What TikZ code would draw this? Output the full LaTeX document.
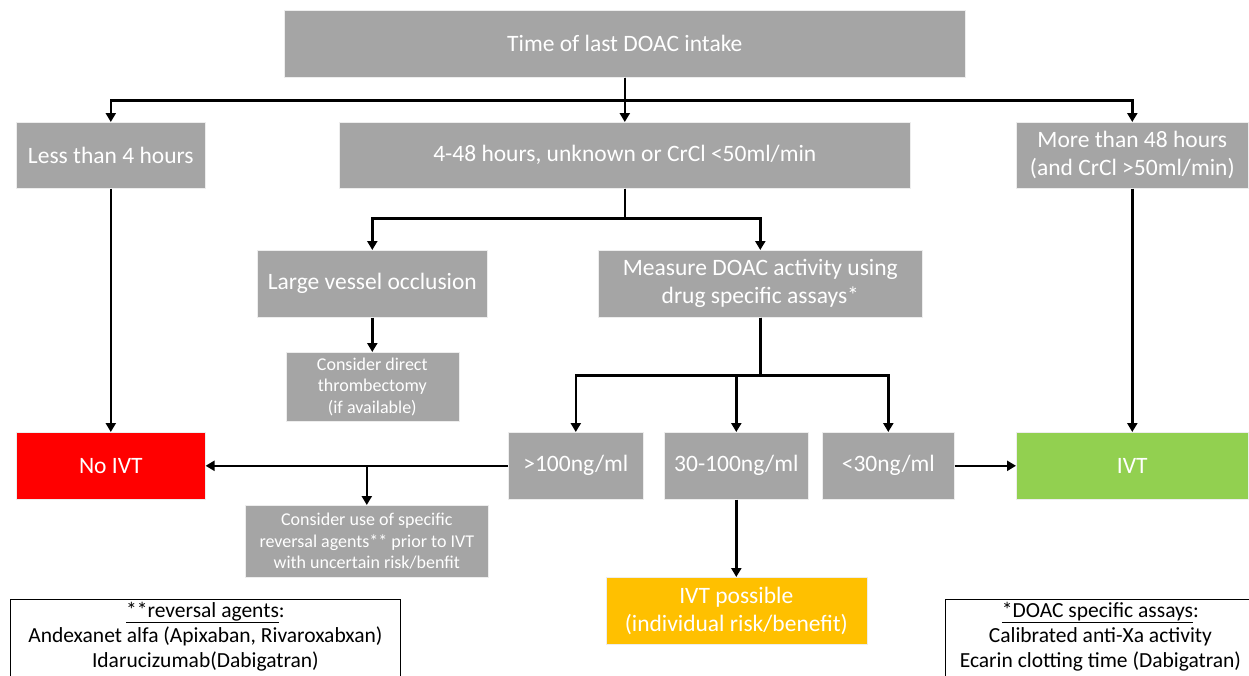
\documentclass[tikz,border=0pt]{standalone}
\usepackage{fontspec}
\setmainfont{Carlito}
\usetikzlibrary{arrows.meta}
\definecolor{boxgray}{HTML}{A5A5A5}
\definecolor{noivtred}{HTML}{FF0000}
\definecolor{ivtgreen}{HTML}{92D050}
\definecolor{possibleyellow}{HTML}{FFC000}
\newcommand{\boxtext}{\fontsize{23.5}{28}\selectfont}
\newcommand{\smalltext}{\fontsize{18}{21.5}\selectfont}
\newcommand{\legendtext}{\fontsize{21.5}{25}\selectfont}

\begin{document}
\begin{tikzpicture}[x=1pt, y=-1pt,
    box/.style={rectangle, anchor=north west, fill=boxgray, draw=white!80!boxgray, line width=0.6pt, text=white, align=center, inner sep=0pt, font=\boxtext},
    smallbox/.style={box, font=\smalltext},
    legendbox/.style={rectangle, anchor=north west, draw=black, line width=0.8pt, align=center, inner sep=0pt, font=\legendtext},
    arrow/.style={draw=black, line width=2.4pt, -{Triangle[width=10pt,length=9pt]}}]
    \useasboundingbox (0,0) rectangle (1249,675);

    % First row
    \node[box, minimum width=681, minimum height=67] (top) at (284,10) {Time of last DOAC intake};

    % Second row
    \node[box, minimum width=189, minimum height=66] (less) at (16,122) {Less than 4 hours};
    \node[box, minimum width=571, minimum height=66] (mid) at (339,122) {4-48 hours, unknown or CrCl <50ml/min};
    \node[box, minimum width=232, minimum height=66] (more) at (1016,122) {More than 48 hours\\(and CrCl >50ml/min)};

    % Third row
    \node[box, minimum width=230, minimum height=67] (lvo) at (257,250) {Large vessel occlusion};
    \node[box, minimum width=324, minimum height=67] (measure) at (598,250) {Measure DOAC activity using\\drug specific assays*};
    \node[smallbox, minimum width=173, minimum height=69] (thromb) at (285.5,352) {Consider direct\\thrombectomy\\(if available)};

    % Fourth row
    \node[box, fill=noivtred, minimum width=189, minimum height=67] (noivt) at (16,432) {No IVT};
    \node[box, minimum width=135, minimum height=67] (high) at (508,432) {>100ng/ml};
    \node[box, minimum width=144, minimum height=67] (medium) at (664,432) {30-100ng/ml};
    \node[box, minimum width=132, minimum height=67] (low) at (822,432) {<30ng/ml};
    \node[box, fill=ivtgreen, minimum width=232, minimum height=67] (ivt) at (1016,432) {IVT};

    % Fifth row
    \node[smallbox, minimum width=243, minimum height=72] (reversal) at (245,505) {Consider use of specific\\reversal agents** prior to IVT\\with uncertain risk/benfit};
    \node[box, fill=possibleyellow, minimum width=261, minimum height=67] (possible) at (605.5,577) {IVT possible\\(individual risk/benefit)};

    % Legends
    \node[legendbox, minimum width=390, minimum height=90, text depth=20pt] (legend-left) at (10,599) {\underline{**reversal agents}:\\Andexanet alfa (Apixaban, Rivaroxabxan)\\Idarucizumab(Dabigatran)};
    \node[legendbox, minimum width=310, minimum height=90, text depth=20pt] (legend-right) at (945,599) {\underline{*DOAC specific assays}:\\Calibrated anti-Xa activity\\Ecarin clotting time (Dabigatran)};

    % Connectors
    \draw[arrow] (top.south) -- ++(0,23) -| (less.north);
    \draw[arrow] (top.south) -- (mid.north);
    \draw[arrow] (top.south) -- ++(0,23) -| (more.north);
    \draw[arrow] (mid.south) -- ++(0,30) -| (lvo.north);
    \draw[arrow] (mid.south) -- ++(0,30) -| (measure.north);
    \draw[arrow] (lvo.south) -- (thromb.north);
    \draw[arrow] (measure.south) -- ++(0,58) -| (high.north);
    \draw[arrow] (measure.south) -- ++(0,58) -| (medium.north);
    \draw[arrow] (measure.south) -- ++(0,58) -| (low.north);
    \draw[arrow] (less.south) -- (noivt.north);
    \draw[arrow] (more.south) -- (ivt.north);
    \draw[arrow] (high.west) -- (noivt.east);
    \draw[arrow] (low.east) -- (ivt.west);
    \coordinate (branch) at (reversal.north |- high.west);
    \draw[arrow] (branch) -- (reversal.north);
    \draw[arrow] (medium.south) -- (possible.north);

\end{tikzpicture}
\end{document}
